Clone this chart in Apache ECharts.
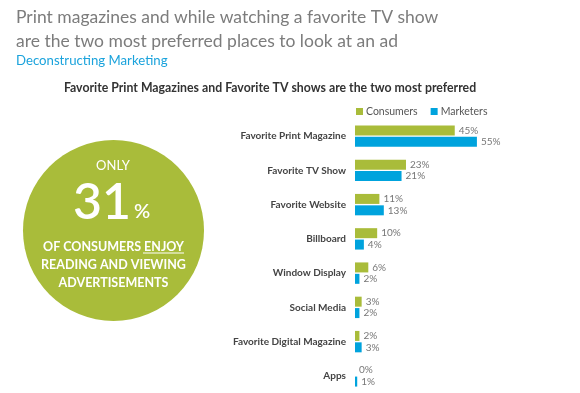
<!DOCTYPE html>
<html><head><meta charset="utf-8">
<script src="https://cdn.jsdelivr.net/npm/echarts@6/dist/echarts.min.js"></script>
<style>html,body{margin:0;padding:0;background:#fff}#c{width:580px;height:393px}</style>
</head><body><div id="c"></div>
<script>
const categories = ['Favorite Print Magazine','Favorite TV Show','Favorite Website','Billboard','Window Display','Social Media','Favorite Digital Magazine','Apps'];
const consumers = [45,23,11,10,6,3,2,0];
const marketers = [55,21,13,4,2,2,3,1];
const seriesNames = ['Consumers','Marketers'];
const FONT = 'Lato';
const chart = echarts.init(document.getElementById('c'), null, {renderer:'canvas'});
chart.setOption({
  animation:false,
  textStyle:{fontFamily:FONT},
  title:[
    {text:'Print magazines and while watching a favorite TV show\nare the two most preferred places to look at an ad',
     left:11, top:1, textStyle:{fontSize:17.5, fontWeight:'normal', color:'#7c7c7c', lineHeight:23.5, fontFamily:FONT}},
    {text:'Deconstructing Marketing', left:11, top:49, textStyle:{fontSize:13.2, fontWeight:'normal', color:'#1ba3dc', fontFamily:FONT}},
    {text:'Favorite Print Magazines and Favorite TV shows are the two most preferred', left:265, textAlign:'center', top:77,
     textStyle:{fontSize:12.3, fontWeight:'bold', color:'#333', fontFamily:FONT}}
  ],
  legend:{data:seriesNames, left:351, top:101, itemWidth:7, itemHeight:7, itemGap:13, icon:'rect',
    textStyle:{fontSize:10.5, color:'#555', padding:[0,0,0,-2]}},
  grid:{left:355, width:133, top:119, bottom:0, containLabel:false},
  xAxis:{type:'value', min:0, max:60, show:false},
  yAxis:{type:'category', data:categories, inverse:true,
    axisLine:{show:false}, axisTick:{show:false},
    axisLabel:{fontSize:10, fontWeight:'bold', color:'#444', margin:9}},
  series:[
    {name:seriesNames[0], type:'bar', data:consumers, barWidth:10, barGap:'14%', itemStyle:{color:'#a9bc3a'},
     label:{show:true, position:'right', distance:4, formatter:'{c}%', fontSize:10, color:'#777'}},
    {name:seriesNames[1], type:'bar', data:marketers, barWidth:10, itemStyle:{color:'#00a3dd'},
     label:{show:true, position:'right', distance:4, formatter:'{c}%', fontSize:10, color:'#777'}}
  ],
  graphic:[
    {type:'circle', shape:{cx:113.5, cy:230.5, r:90.5}, style:{fill:'#a9bc3a'}, z:0},
    {type:'text', style:{x:113, y:166, text:'ONLY', textAlign:'center', textVerticalAlign:'middle', fill:'#fff', font:'13px '+FONT}},
    {type:'text', style:{x:131, y:228, text:'31', textAlign:'right', textVerticalAlign:'bottom', fill:'#fff', font:'600 50px '+FONT}},
    {type:'text', style:{x:134, y:222, text:'%', textAlign:'left', textVerticalAlign:'bottom', fill:'#fff', font:'600 20px '+FONT}},
    {type:'text', style:{x:113.5, y:264.5, text:'OF CONSUMERS ENJOY\nREADING AND VIEWING\nADVERTISEMENTS', textAlign:'center', textVerticalAlign:'middle', lineHeight:18, fill:'#fff', font:'bold 12.5px '+FONT}},
    {type:'line', shape:{x1:143, y1:253, x2:184, y2:253}, style:{stroke:'#fff', lineWidth:1}}
  ]
});
</script></body></html>
